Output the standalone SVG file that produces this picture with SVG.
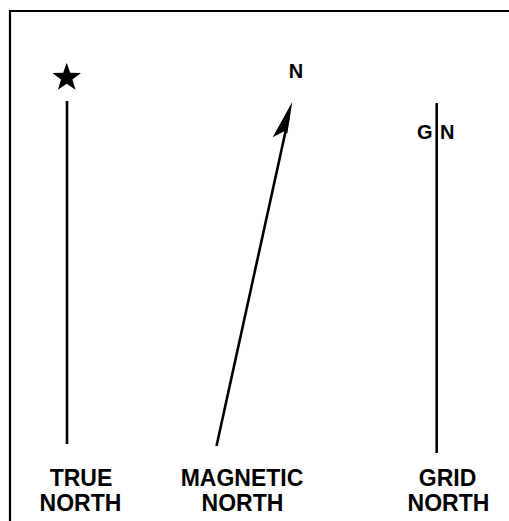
<svg xmlns="http://www.w3.org/2000/svg" width="509" height="521" viewBox="0 0 509 521">
  <style>
    .ln { stroke: #000; stroke-width: 2.6; fill: none; }
    .lbl { font-family: "Liberation Sans", Arial, sans-serif; font-weight: bold; font-size: 23px; fill: #000; text-anchor: middle; }
    .sm { font-family: "Liberation Sans", Arial, sans-serif; font-weight: bold; font-size: 20px; fill: #000; }
  </style>
  <rect x="0" y="0" width="509" height="521" fill="#fff"/>
  <g id="frame">
    <path d="M10,521 V11 H509" stroke="#000" stroke-width="2.2" fill="none"/>
  </g>
  <g id="true-north">
    <polygon points="66.7,62.7 70.2,72.85 81,73.06 72.4,79.55 75.5,89.84 66.7,83.7 57.9,89.84 61,79.55 52.4,73.06 63.2,72.85" fill="#000"/>
    <line class="ln" x1="67" y1="101" x2="67" y2="444"/>
    <text class="lbl" x="81" y="485.5">TRUE</text>
    <text class="lbl" x="80.5" y="510.5">NORTH</text>
  </g>
  <g id="magnetic-north">
    <line class="ln" x1="216.5" y1="446" x2="288.5" y2="118"/>
    <polygon points="292.3,101.7 287.3,133.4 283.8,131.5 272.7,137.3" fill="#000"/>
    <text class="sm" x="296" y="77.5" font-size="21" text-anchor="middle">N</text>
    <text class="lbl" x="242" y="485.5">MAGNETIC</text>
    <text class="lbl" x="242.5" y="510.5">NORTH</text>
  </g>
  <g id="grid-north">
    <line class="ln" x1="436.7" y1="103" x2="436.7" y2="453"/>
    <text class="sm" x="432.5" y="138.5" text-anchor="end">G</text>
    <text class="sm" x="440" y="138.5">N</text>
    <text class="lbl" x="447.5" y="485.5">GRID</text>
    <text class="lbl" x="448.5" y="510.5">NORTH</text>
  </g>
  <g id="connectors"></g>
</svg>
